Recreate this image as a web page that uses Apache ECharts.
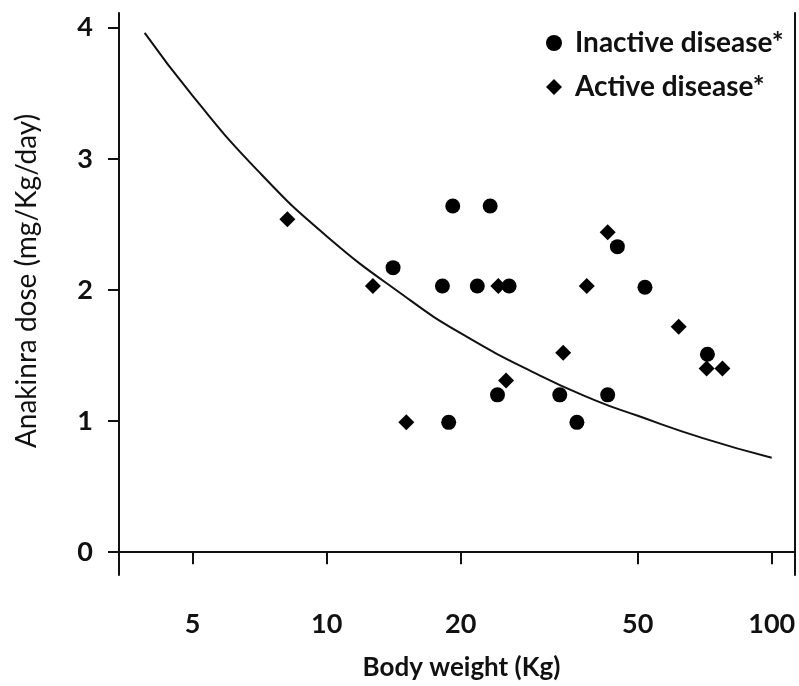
<!DOCTYPE html>
<html>
<head>
<meta charset="utf-8">
<script src="https://cdn.jsdelivr.net/npm/echarts@6/dist/echarts.min.js"></script>
<style>
  html, body { margin: 0; padding: 0; background: #fff; }
  #chart { width: 799px; height: 686px; }
</style>
</head>
<body>
<div id="chart"></div>
<script>
// body weight (kg) and dose (mg/kg/day)
var inactiveWeight = [19.2, 23.3, 14.1, 18.2, 21.8, 25.7, 45.0, 51.9, 71.7, 24.2, 33.4, 42.8, 18.8, 36.5];
var inactiveDose   = [2.64, 2.64, 2.17, 2.03, 2.03, 2.03, 2.33, 2.02, 1.51, 1.20, 1.20, 1.20, 0.99, 0.99];

var activeWeight = [8.16, 12.7, 24.3, 38.4, 42.8, 34.0, 61.8, 71.4, 77.5, 25.3, 15.1];
var activeDose   = [2.54, 2.03, 2.03, 2.03, 2.44, 1.52, 1.72, 1.40, 1.40, 1.31, 0.99];

// fitted curve, points
var curveWeight = [3.9, 5, 7, 10, 15, 20, 30, 40, 50, 70, 100];
var curveDose   = [3.96, 3.48, 2.91, 2.41, 1.95, 1.67, 1.35, 1.16, 1.04, 0.87, 0.72];

var xTicks = [5, 10, 20, 50, 100];
var yTicks = [0, 1, 2, 3, 4];

var FONT = 'Lato';

function pairs(xs, ys) {
  return xs.map(function (x, i) { return [x, ys[i]]; });
}

var chart = echarts.init(document.getElementById('chart'));

chart.setOption({
  animation: false,
  backgroundColor: '#fff',
  grid: { left: 119, right: 4, top: 13, bottom: 106 },
  legend: {
    orient: 'vertical',
    left: 541,
    top: 24,
    itemWidth: 16,
    itemHeight: 16,
    itemGap: 16,
    data: ['Inactive disease*', 'Active disease*'],
    textStyle: { fontFamily: FONT, fontWeight: 'bold', fontSize: 28, color: '#111', padding: [0, 0, 0, 8] }
  },
  xAxis: {
    type: 'log',
    logBase: 10,
    min: 3.415,
    max: 112.8,
    name: 'Body weight (Kg)',
    nameLocation: 'middle',
    nameGap: 80,
    nameTextStyle: { fontFamily: FONT, fontWeight: 'bold', fontSize: 26, color: '#111', padding: [0, 0, 0, 9] },
    axisLine: { lineStyle: { color: '#111', width: 2 } },
    axisTick: { length: 12, lineStyle: { color: '#111', width: 2 }, customValues: xTicks },
    axisLabel: { margin: 36, fontFamily: FONT, fontWeight: 'bold', fontSize: 27, color: '#111', customValues: xTicks },
    splitLine: { show: false },
    minorTick: { show: false }
  },
  yAxis: [{
    type: 'value',
    min: -0.174,
    max: 4.112,
    name: 'Anakinra dose (mg/Kg/day)',
    nameLocation: 'middle',
    nameGap: 78,
    nameTextStyle: { fontFamily: FONT, fontWeight: 'normal', fontSize: 28, color: '#111', padding: [0, 0, 0, 26] },
    axisLine: { lineStyle: { color: '#111', width: 2 } },
    axisTick: { length: 11, lineStyle: { color: '#111', width: 2 }, customValues: yTicks },
    axisLabel: { margin: 26, fontFamily: FONT, fontWeight: 'bold', fontSize: 27, color: '#111', customValues: yTicks },
    splitLine: { show: false }
  }, {
    // right border of the frame
    type: 'value',
    position: 'right',
    min: -0.174,
    max: 4.112,
    axisLine: { show: true, lineStyle: { color: '#111', width: 2 } },
    axisTick: { show: false },
    axisLabel: { show: false },
    splitLine: { show: false }
  }],
  series: [{
    name: 'curve',
    type: 'line',
    data: pairs(curveWeight, curveDose),
    smooth: true,
    showSymbol: false,
    lineStyle: { color: '#111', width: 2 },
    silent: true
  }, {
    name: 'Inactive disease*',
    type: 'scatter',
    symbol: 'circle',
    symbolSize: 15,
    itemStyle: { color: '#000', opacity: 1 },
    data: pairs(inactiveWeight, inactiveDose)
  }, {
    name: 'Active disease*',
    type: 'scatter',
    symbol: 'diamond',
    symbolSize: 16,
    itemStyle: { color: '#000', opacity: 1 },
    data: pairs(activeWeight, activeDose)
  }]
});
</script>
</body>
</html>
